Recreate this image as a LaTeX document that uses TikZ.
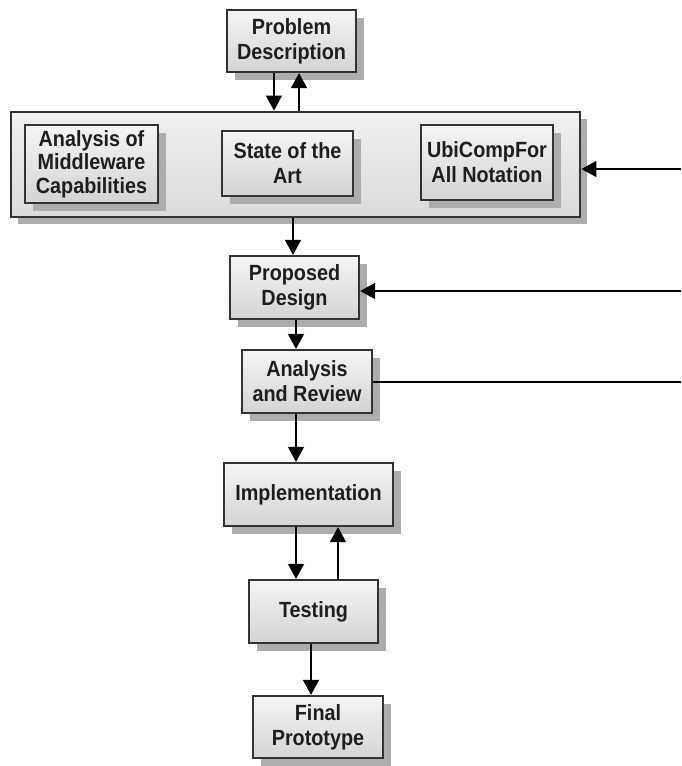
\documentclass[tikz,border=0pt]{standalone}
\usepackage{fontspec}
\setmainfont[FakeStretch=0.9]{Liberation Sans}
\usetikzlibrary{arrows.meta,shadows,calc}
\definecolor{edgegray}{HTML}{333333}
\definecolor{shadegray}{HTML}{ADADAD}
\definecolor{txtgray}{HTML}{1E1E1E}
\tikzset{
  box/.style={draw=edgegray, line width=2.2pt, top color=white!96!black, bottom color=black!17,
    drop shadow={shadow xshift=8pt, shadow yshift=-8pt, fill=shadegray, opacity=1},
    align=center, inner sep=2pt, text=txtgray,
    font=\fontsize{22}{25}\selectfont\bfseries},
  tightbox/.style={box, font=\fontsize{22}{23.5}\selectfont\bfseries},
  bigbox/.style={draw=edgegray, line width=2.8pt, top color=white!94!black, bottom color=black!14,
    drop shadow={shadow xshift=7pt, shadow yshift=-7pt, fill=shadegray, opacity=1}},
  arr/.style={line width=1.5pt, -{Triangle[length=15pt,width=16pt]}},
  plain/.style={line width=2pt}
}
\begin{document}
\begin{tikzpicture}[x=1pt,y=-1pt]
\useasboundingbox[fill=white] (0,0) rectangle (681,766);
\node[bigbox, minimum width=569pt, minimum height=105pt] (Big) at (295.5,164.5) {};
\node[box, minimum width=129pt, minimum height=62pt] (PD) at (291.5,41) {Problem\\Description};
\node[tightbox, minimum width=133pt, minimum height=78pt] (AM) at (91.5,164) {Analysis of\\Middleware\\Capabilities};
\node[box, minimum width=131pt, minimum height=65pt] (SA) at (287.5,163.5) {State of the\\Art};
\node[box, minimum width=132pt, minimum height=75pt] (UC) at (487,162.5) {UbiCompFor\\All Notation};
\node[box, minimum width=129pt, minimum height=63pt] (PrD) at (294.5,287.5) {Proposed\\Design};
\node[box, minimum width=130pt, minimum height=63pt] (AR) at (307,381.5) {Analysis\\and Review};
\node[box, minimum width=169pt, minimum height=63pt] (Impl) at (308.5,494.5) {Implementation};
\node[box, minimum width=129pt, minimum height=63pt] (Test) at (313.5,611.5) {Testing};
\node[box, minimum width=130pt, minimum height=62pt] (Final) at (318,727) {Final\\Prototype};

\coordinate (c274) at (274,0);
\coordinate (c299) at (299,0);
\coordinate (c293) at (293,0);
\coordinate (c296) at (296,0);
\coordinate (c338) at (338,0);
\coordinate (c311) at (311,0);
\coordinate (r1) at (681,169);
\coordinate (r2) at (681,291);
\coordinate (r3) at (681,382);

\draw[arr] (PD.south -| c274) -- (Big.north -| c274);
\draw[arr] (Big.north -| c299) -- (PD.south -| c299);
\draw[arr] (Big.south -| c293) -- (PrD.north -| c293);
\draw[arr] (PrD.south -| c296) -- (AR.north -| c296);
\draw[arr] (AR.south -| c296) -- (Impl.north -| c296);
\draw[arr] (Impl.south -| c296) -- (Test.north -| c296);
\draw[arr] (Test.north -| c338) -- (Impl.south -| c338);
\draw[arr] (Test.south -| c311) -- (Final.north -| c311);
\draw[arr] (r1) -- (r1 -| Big.east);
\draw[arr] (r2) -- (r2 -| PrD.east);
\draw[plain] (AR.east |- r3) -- (r3);
\end{tikzpicture}
\end{document}
